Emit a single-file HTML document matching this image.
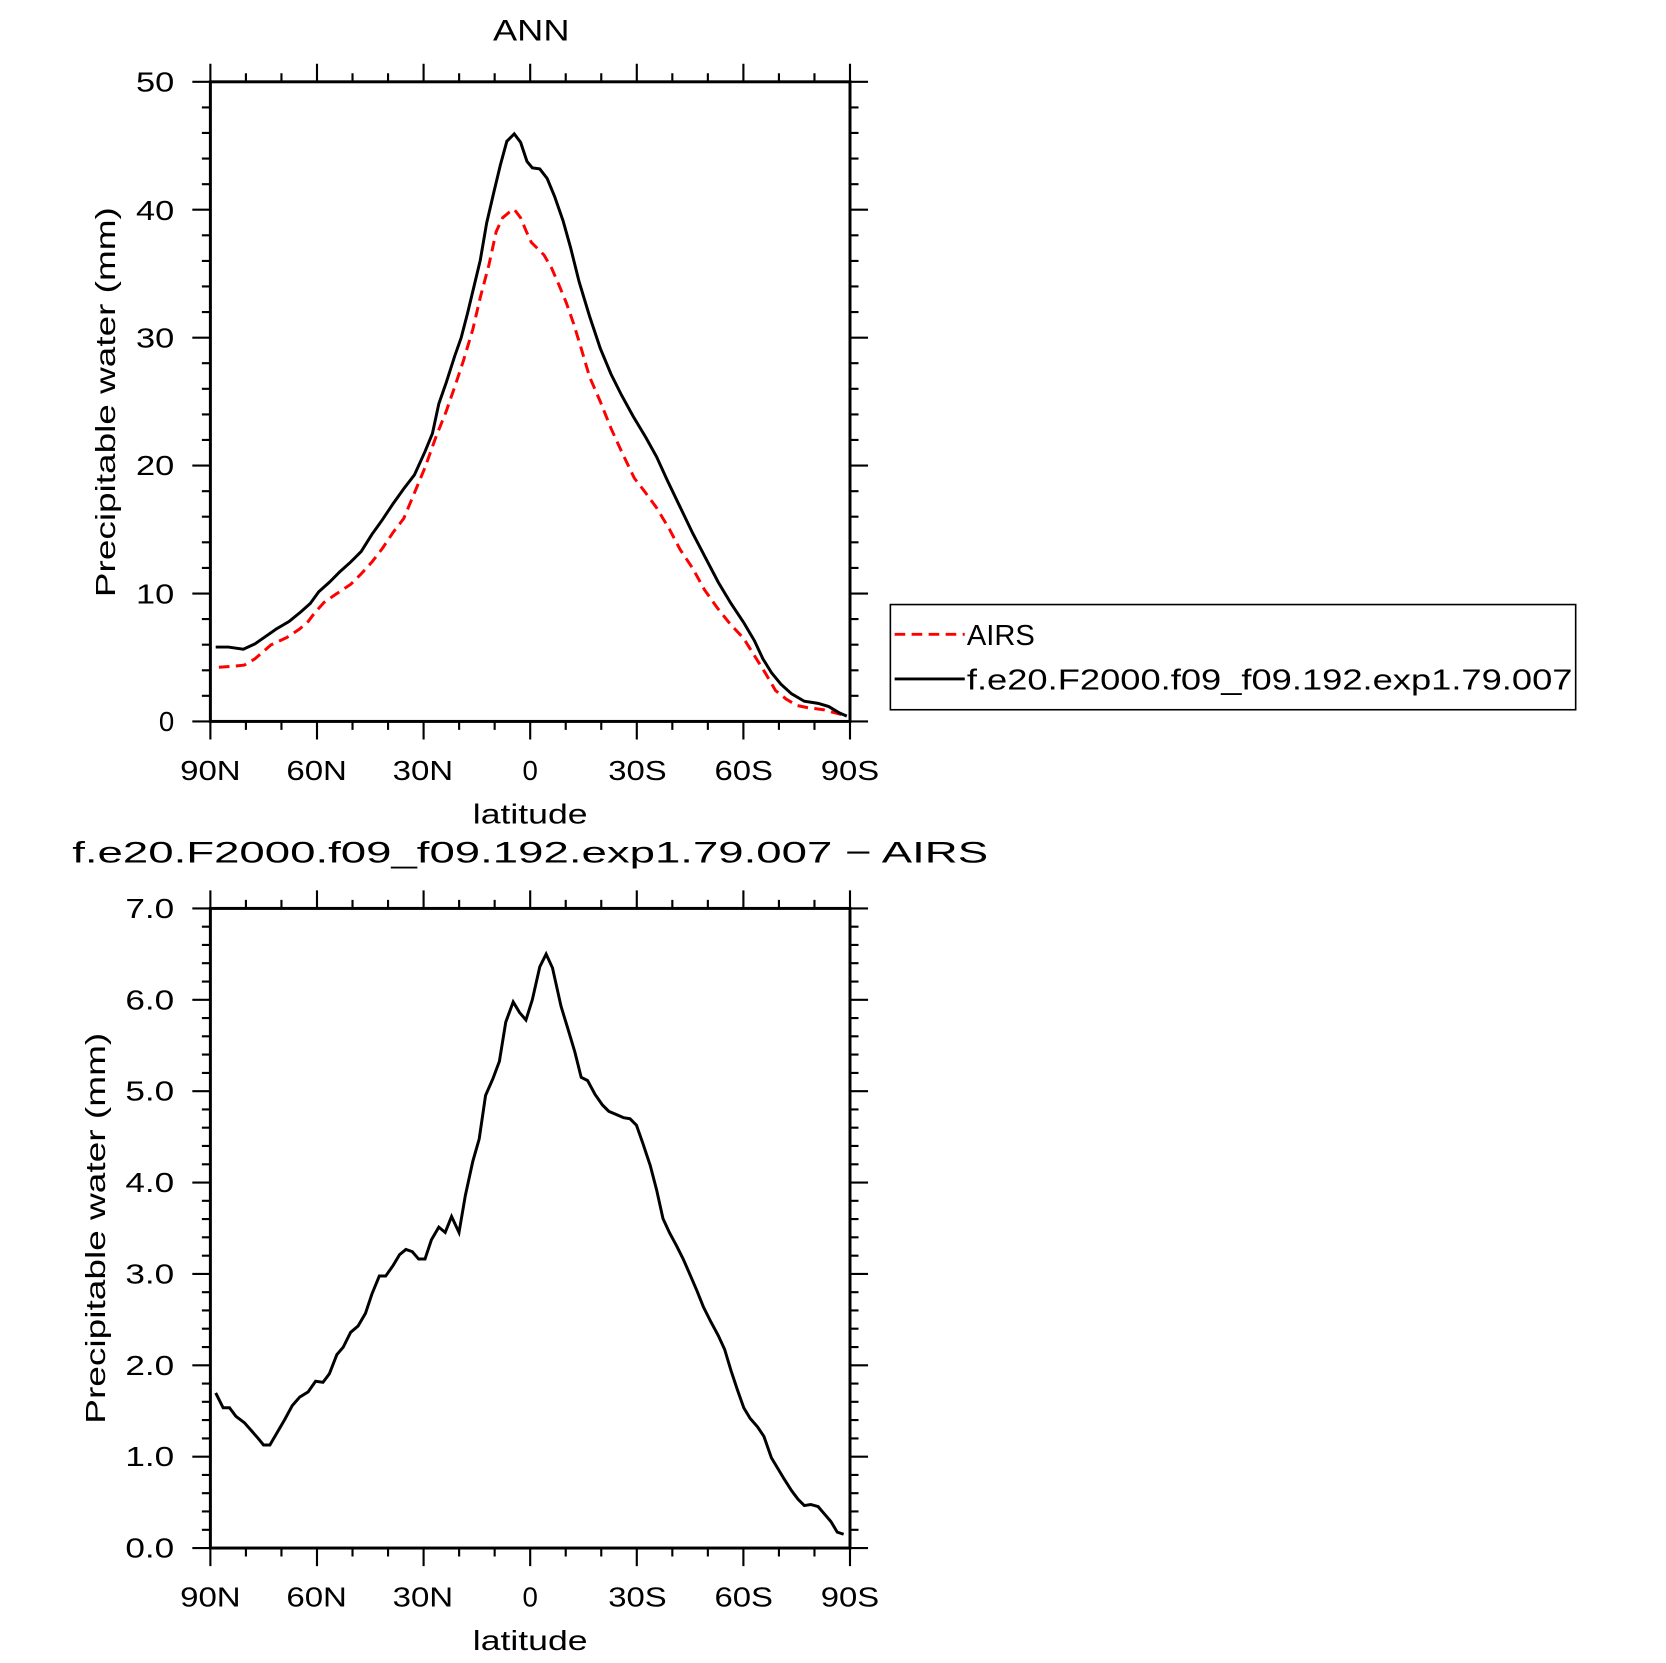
<!DOCTYPE html>
<html><head><style>html,body{margin:0;padding:0;background:#fff}svg{display:block}</style></head>
<body>
<svg width="1666" height="1663" viewBox="0 0 1568 1565.2" xmlns="http://www.w3.org/2000/svg" font-family="Liberation Sans, DejaVu Sans, sans-serif">
<g id="ticks" stroke="#000" stroke-width="2" fill="none"></g>
<g font-size="28" fill="#000" lengthAdjust="spacingAndGlyphs">
<text x="464" y="38" textLength="72" lengthAdjust="spacingAndGlyphs">ANN</text>
<text x="68" y="812" textLength="862" lengthAdjust="spacingAndGlyphs">f.e20.F2000.f09_f09.192.exp1.79.007 − AIRS</text>
<text x="445" y="775" font-size="26" textLength="108" lengthAdjust="spacingAndGlyphs">latitude</text>
<text x="445" y="1553" font-size="26" textLength="108" lengthAdjust="spacingAndGlyphs">latitude</text>
<text transform="translate(108,562) rotate(-90)" font-size="26" textLength="367" lengthAdjust="spacingAndGlyphs">Precipitable water (mm)</text>
<text transform="translate(99,1340) rotate(-90)" font-size="26" textLength="368" lengthAdjust="spacingAndGlyphs">Precipitable water (mm)</text>
</g>
<g font-size="26" fill="#000" text-anchor="middle">
<text x="198" y="734" textLength="57" lengthAdjust="spacingAndGlyphs">90N</text><text x="298" y="734" textLength="57" lengthAdjust="spacingAndGlyphs">60N</text><text x="398" y="734" textLength="57" lengthAdjust="spacingAndGlyphs">30N</text><text x="499" y="734">0</text><text x="600" y="734" textLength="55" lengthAdjust="spacingAndGlyphs">30S</text><text x="700" y="734" textLength="55" lengthAdjust="spacingAndGlyphs">60S</text><text x="800" y="734" textLength="55" lengthAdjust="spacingAndGlyphs">90S</text>
<text x="198" y="1512" textLength="57" lengthAdjust="spacingAndGlyphs">90N</text><text x="298" y="1512" textLength="57" lengthAdjust="spacingAndGlyphs">60N</text><text x="398" y="1512" textLength="57" lengthAdjust="spacingAndGlyphs">30N</text><text x="499" y="1512">0</text><text x="600" y="1512" textLength="55" lengthAdjust="spacingAndGlyphs">30S</text><text x="700" y="1512" textLength="55" lengthAdjust="spacingAndGlyphs">60S</text><text x="800" y="1512" textLength="55" lengthAdjust="spacingAndGlyphs">90S</text>
</g>
<g font-size="26" fill="#000" text-anchor="end">
<text x="164" y="688">0</text><text x="164" y="568" textLength="36" lengthAdjust="spacingAndGlyphs">10</text><text x="164" y="447" textLength="36" lengthAdjust="spacingAndGlyphs">20</text><text x="164" y="327" textLength="36" lengthAdjust="spacingAndGlyphs">30</text><text x="164" y="207" textLength="36" lengthAdjust="spacingAndGlyphs">40</text><text x="164" y="86" textLength="36" lengthAdjust="spacingAndGlyphs">50</text>
<text x="164" y="1466" textLength="46" lengthAdjust="spacingAndGlyphs">0.0</text><text x="164" y="1380" textLength="46" lengthAdjust="spacingAndGlyphs">1.0</text><text x="164" y="1294" textLength="46" lengthAdjust="spacingAndGlyphs">2.0</text><text x="164" y="1208" textLength="46" lengthAdjust="spacingAndGlyphs">3.0</text><text x="164" y="1122" textLength="46" lengthAdjust="spacingAndGlyphs">4.0</text><text x="164" y="1036" textLength="46" lengthAdjust="spacingAndGlyphs">5.0</text><text x="164" y="950" textLength="46" lengthAdjust="spacingAndGlyphs">6.0</text><text x="164" y="864" textLength="46" lengthAdjust="spacingAndGlyphs">7.0</text>
</g>
<rect x="198" y="77" width="602" height="602" fill="none" stroke="#000" stroke-width="2.8"/>
<rect x="198" y="855" width="602" height="602" fill="none" stroke="#000" stroke-width="2.8"/>
<polyline fill="none" stroke="#f00" stroke-width="2.8" stroke-dasharray="10,6" points="206,628 220,627 230,626 240,620 255,607 270,600 282,592 290,585 296,577 305,567 315,560 330,550 340,540 350,529 360,516 370,501 380,488 390,464 400,440 410,412 420,387 428,364 436,340 445,310 452,280 460,250 467,218 473,205 479,200 484,197 490,205 495,217 500,228 506,234 512,240 519,252 526,268 533,285 540,305 547,328 555,355 565,378 575,403 585,425 597,450 607,463 618,478 630,498 640,517 652,535 663,555 675,572 687,587 700,601 710,617 720,633 730,650 740,658 750,664 760,666 775,668 790,672 797,674"/>
<polyline fill="none" stroke="#000" stroke-width="2.8" points="203,609 215,609 229,611 240,606 250,599 260,592 272,585 283,576 292,568 300,557 310,548 320,538 330,529 340,519 350,503 360,489 370,474 380,460 390,447 400,425 407,408 413,380 420,360 428,335 434,318 440,295 446,270 452,245 458,210 465,180 471,155 477,133 484,126 490,134 496,152 501,158 508,159 515,168 522,185 530,208 537,233 545,265 555,298 565,328 575,352 585,372 596,392 608,412 618,430 628,452 640,477 652,502 664,525 676,548 688,568 700,586 710,603 718,620 726,633 735,644 745,653 757,660 770,662 780,665 790,671 797,674"/>
<polyline fill="none" stroke="#000" stroke-width="2.8" points="203,1311 210,1325 216,1325 222,1333 230,1339 237,1347 244,1355 248,1360 254,1360 261,1348 268,1336 275,1323 282,1315 290,1310 297,1300 304,1301 310,1293 317,1275 323,1268 330,1254 337,1248 344,1236 350,1218 357,1201 363,1201 370,1191 376,1181 382,1176 388,1178 394,1185 400,1185 406,1167 413,1155 419,1160 425,1145 432,1160 438,1125 445,1093 451,1072 457,1031 464,1015 470,999 476,962 483,943 489,953 495,960 501,941 508,910 514,898 520,911 528,947 535,970 541,990 547,1014 553,1017 560,1030 567,1040 573,1046 580,1049 587,1052 593,1053 599,1059 605,1076 612,1097 618,1120 624,1147 630,1160 637,1173 643,1185 650,1201 656,1215 662,1230 669,1244 676,1257 682,1270 688,1290 694,1308 700,1325 706,1335 713,1343 719,1352 726,1372 732,1382 738,1392 745,1403 751,1411 757,1417 763,1416 770,1418 776,1425 782,1432 788,1442 794,1444"/>
<rect x="838" y="569" width="645" height="99" fill="#fff" stroke="#000" stroke-width="1.5"/>
<line x1="842" y1="597" x2="908" y2="597" stroke="#f00" stroke-width="2.8" stroke-dasharray="10,6"/>
<line x1="842" y1="639" x2="908" y2="639" stroke="#000" stroke-width="2.8"/>
<text x="910" y="607" font-size="27" textLength="64" lengthAdjust="spacingAndGlyphs">AIRS</text>
<text x="910" y="649" font-size="27" textLength="570" lengthAdjust="spacingAndGlyphs">f.e20.F2000.f09_f09.192.exp1.79.007</text>
<script>
(function(){
var g=document.getElementById('ticks'),d='';
[[77,679,25],[855,1457,35]].forEach(function(p){
 var t=p[0],b=p[1],nm=p[2];
 for(var i=0;i<=nm;i++){var y=b-(b-t)*i/nm;var L=(i%5==0)?17:8;
  d+='M198 '+y+'h-'+L+'M800 '+y+'h'+L;}
 for(var j=0;j<=18;j++){var x=198+602*j/18;var L=(j%3==0)?17:8;
  d+='M'+x+' '+t+'v-'+L+'M'+x+' '+b+'v'+L;}
});
var p=document.createElementNS('http://www.w3.org/2000/svg','path');p.setAttribute('d',d);g.appendChild(p);
})();
</script>
</svg>
</body></html>
